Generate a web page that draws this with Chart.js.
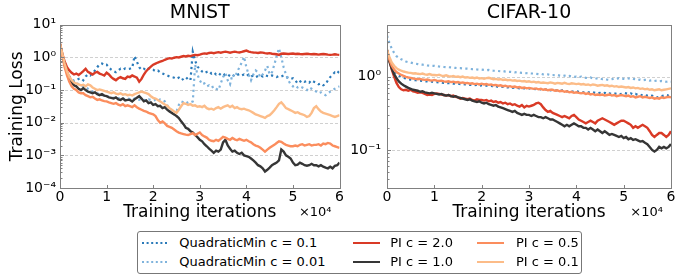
<!DOCTYPE html>
<html><head><meta charset="utf-8">
<script src="https://cdn.jsdelivr.net/npm/chart.js@4/dist/chart.umd.min.js"></script>
<style>
html,body{margin:0;padding:0;background:#fff;width:681px;height:277px;overflow:hidden;font-family:'DejaVu Sans',sans-serif;}
canvas{position:absolute;top:0;}
#c1{left:0;}
#c2{left:340px;}
#legendBox{position:absolute;left:137px;top:231px;width:445px;height:43px;border:1px solid #777;border-radius:3px;box-sizing:border-box;}
.lg{position:absolute;height:16px;font-size:13px;line-height:16px;white-space:nowrap;color:#000;}
.lg svg{position:absolute;left:0;top:5px;}
.lg span{position:absolute;top:0;}
</style></head><body>
<canvas id="c1" width="345" height="225"></canvas>
<canvas id="c2" width="341" height="225"></canvas>
<div id="legendBox"></div>
<div id="legendItems"></div>
<script>
const iters = [0,500,1000,1500,2000,2500,3000,3500,4000,4500,5000,5500,6000,6500,7000,7500,8000,8500,9000,9500,
10000,10500,11000,11500,12000,12500,13000,13500,14000,14500,15000,15500,16000,16500,17000,17500,18000,18500,19000,19500,
20000,20500,21000,21500,22000,22500,23000,23500,24000,24500,25000,25500,26000,26500,27000,27500,28000,28500,29000,29500,
30000,30500,31000,31500,32000,32500,33000,33500,34000,34500,35000,35500,36000,36500,37000,37500,38000,38500,39000,39500,
40000,40500,41000,41500,42000,42500,43000,43500,44000,44500,45000,45500,46000,46500,47000,47500,48000,48500,49000,49500,
50000,50500,51000,51500,52000,52500,53000,53500,54000,54500,55000,55500,56000,56500,57000,57500,58000,58500,59000,59500,60000];

const seriesLabels = ['QuadraticMin c = 0.1','QuadraticMin c = 0.01','PI c = 2.0','PI c = 1.0','PI c = 0.5','PI c = 0.1'];
const seriesColors = ['#2a7ab9','#7fb3dc','#d93a26','#363636','#fb8d5d','#fcbc88'];
const seriesDotted = [true,true,false,false,false,false];

// MNIST
const mnistQ1 = [2.5,1.2,0.6,0.35,0.26,0.21,0.19,0.2,0.22,0.23,
0.2,0.26,0.3,0.28,0.33,0.4,0.5,0.62,0.65,0.58,
0.6,0.5,0.42,0.38,0.35,0.4,0.45,0.42,0.46,0.44,
0.45,0.48,1.1,0.75,0.5,0.42,0.45,0.4,0.46,0.43,
0.42,0.38,0.4,0.35,0.32,0.3,0.28,0.26,0.25,0.24,
0.22,0.24,0.2,0.22,0.25,0.21,0.2,1.5,0.8,0.52,
0.45,0.37,0.33,0.36,0.38,0.32,0.35,0.3,0.33,0.29,
0.32,0.28,0.3,0.27,0.3,0.26,0.29,0.31,0.28,0.3,
0.27,0.3,0.26,0.28,0.25,0.27,0.28,0.26,0.29,0.27,
0.26,0.28,0.27,0.25,0.27,0.26,0.28,0.25,0.24,0.22,
0.23,0.2,0.16,0.18,0.2,0.18,0.19,0.17,0.2,0.18,
0.17,0.15,0.16,0.14,0.15,0.2,0.25,0.3,0.35,0.32,0.4];
const mnistQ01 = [2.5,1.25,0.62,0.36,0.25,0.2,0.18,0.17,0.15,0.14,
0.13,0.12,0.11,0.1,0.09,0.085,0.08,0.075,0.07,0.068,
0.065,0.062,0.06,0.058,0.055,0.057,0.054,0.056,0.052,0.055,
0.053,0.05,0.055,0.052,0.05,0.054,0.05,0.048,0.052,0.05,
0.048,0.05,0.046,0.052,0.05,0.045,0.035,0.025,0.02,0.018,
0.022,0.035,0.045,0.042,0.045,0.04,0.042,0.045,0.6,0.3,
0.2,0.15,0.16,0.13,0.14,0.12,0.13,0.11,0.1,0.16,
0.25,0.33,0.2,0.15,0.3,0.25,0.35,0.5,0.7,1.05,
0.5,0.3,0.2,0.3,0.4,0.35,0.25,0.3,0.4,0.55,
0.3,0.35,0.6,1.1,1.9,1.0,0.5,0.3,0.2,0.15,
0.13,0.14,0.12,0.13,0.12,0.11,0.1,0.12,0.11,0.1,
0.09,0.08,0.085,0.075,0.07,0.08,0.09,0.1,0.11,0.12,0.13];
const mnistPI2 = [2.6,1.3,0.75,0.5,0.4,0.34,0.3,0.32,0.29,0.33,
0.38,0.45,0.36,0.33,0.3,0.34,0.36,0.32,0.3,0.28,
0.34,0.3,0.25,0.22,0.2,0.23,0.25,0.23,0.22,0.26,
0.25,0.28,0.26,0.24,0.18,0.22,0.3,0.38,0.45,0.52,
0.6,0.65,0.7,0.74,0.78,0.85,0.9,0.95,0.92,0.98,
1.02,1.0,1.05,1.1,1.07,1.12,1.1,1.15,1.2,1.17,
1.22,1.28,1.33,1.3,1.37,1.4,1.35,1.4,1.45,1.4,
1.45,1.5,1.45,1.4,1.45,1.5,1.45,1.42,1.48,1.55,
1.62,1.5,1.45,1.42,1.4,1.37,1.42,1.4,1.35,1.32,
1.35,1.3,1.28,1.25,1.2,1.3,1.32,1.3,1.28,1.3,
1.32,1.28,1.3,1.27,1.25,1.28,1.3,1.27,1.25,1.28,
1.25,1.22,1.25,1.27,1.25,1.22,1.2,1.22,1.25,1.22,1.2];
const mnistPI1 = [2.6,1.2,0.6,0.36,0.24,0.17,0.14,0.13,0.11,0.1,
0.115,0.1,0.09,0.085,0.08,0.085,0.075,0.07,0.075,0.068,
0.065,0.06,0.058,0.055,0.06,0.052,0.05,0.055,0.048,0.05,
0.05,0.045,0.052,0.058,0.065,0.055,0.045,0.048,0.04,0.042,
0.035,0.037,0.032,0.033,0.028,0.03,0.025,0.022,0.02,0.018,
0.016,0.014,0.011,0.009,0.007,0.0065,0.0055,0.005,0.0042,0.0036,
0.003,0.0027,0.0022,0.0019,0.0016,0.0014,0.0012,0.0014,0.0013,0.0015,
0.0025,0.003,0.002,0.0016,0.0013,0.0014,0.0012,0.0011,0.0012,0.001,
0.00095,0.0009,0.0008,0.0007,0.0006,0.0005,0.00046,0.0004,0.00032,0.00036,
0.00042,0.0005,0.00055,0.0006,0.0007,0.0015,0.0013,0.001,0.0009,0.0008,
0.0006,0.0005,0.00052,0.0006,0.00055,0.0005,0.00048,0.0005,0.00055,0.0005,
0.0005,0.00046,0.0005,0.00045,0.00042,0.0004,0.00045,0.0004,0.00048,0.0005,0.0006];
const mnistPI05 = [2.6,1.1,0.5,0.28,0.18,0.13,0.11,0.1,0.085,0.08,
0.08,0.07,0.065,0.06,0.062,0.055,0.05,0.052,0.048,0.046,
0.045,0.042,0.04,0.038,0.04,0.036,0.034,0.037,0.032,0.034,
0.032,0.03,0.034,0.03,0.027,0.025,0.023,0.022,0.02,0.019,
0.018,0.016,0.012,0.01,0.011,0.0095,0.008,0.0075,0.007,0.0062,
0.0055,0.005,0.0047,0.0045,0.0043,0.0042,0.0045,0.0048,0.0042,0.0046,
0.005,0.0042,0.0038,0.0035,0.003,0.0028,0.0027,0.003,0.0028,0.0032,
0.0037,0.0035,0.0032,0.003,0.0034,0.0031,0.0029,0.0032,0.003,0.0028,
0.003,0.0027,0.0025,0.0022,0.002,0.0019,0.0017,0.0015,0.0013,0.0015,
0.0017,0.0019,0.0021,0.0024,0.0027,0.0026,0.0023,0.0021,0.002,0.0019,
0.0019,0.002,0.0019,0.0021,0.0022,0.002,0.0021,0.0022,0.002,0.0021,
0.0021,0.0022,0.002,0.0023,0.0022,0.0024,0.0023,0.002,0.0019,0.0018,0.0017];
const mnistPI01 = [2.6,1.3,0.65,0.38,0.26,0.2,0.17,0.16,0.15,0.14,
0.145,0.13,0.15,0.14,0.12,0.11,0.1,0.105,0.1,0.095,
0.09,0.085,0.08,0.085,0.078,0.075,0.08,0.072,0.075,0.07,
0.072,0.068,0.075,0.08,0.085,0.09,0.085,0.08,0.075,0.065,
0.058,0.055,0.05,0.045,0.04,0.036,0.033,0.028,0.025,0.022,
0.02,0.025,0.032,0.04,0.038,0.035,0.037,0.033,0.034,0.031,
0.032,0.03,0.033,0.028,0.026,0.027,0.025,0.028,0.03,0.027,
0.03,0.032,0.034,0.03,0.033,0.028,0.03,0.027,0.026,0.027,
0.025,0.024,0.022,0.02,0.018,0.017,0.016,0.015,0.014,0.016,
0.017,0.02,0.024,0.03,0.038,0.042,0.035,0.028,0.026,0.024,
0.022,0.02,0.021,0.019,0.018,0.017,0.015,0.016,0.02,0.028,
0.032,0.026,0.022,0.02,0.019,0.018,0.017,0.016,0.015,0.016,0.017];

// CIFAR-10
const cifarQ1 = [2.2,1.65,1.35,1.2,1.1,1.03,0.99,0.96,0.94,0.92,
0.91,0.9,0.89,0.88,0.88,0.87,0.86,0.86,0.85,0.85,
0.84,0.84,0.83,0.83,0.82,0.82,0.81,0.81,0.8,0.8,
0.8,0.79,0.79,0.78,0.78,0.77,0.77,0.76,0.77,0.75,
0.76,0.75,0.75,0.74,0.75,0.73,0.74,0.72,0.73,0.72,
0.72,0.71,0.72,0.7,0.71,0.7,0.69,0.7,0.69,0.68,
0.69,0.68,0.68,0.67,0.68,0.67,0.66,0.67,0.66,0.65,
0.66,0.65,0.65,0.64,0.65,0.64,0.63,0.64,0.63,0.62,
0.63,0.62,0.62,0.61,0.62,0.61,0.6,0.61,0.6,0.59,
0.6,0.59,0.6,0.58,0.59,0.58,0.59,0.58,0.57,0.58,
0.6,0.59,0.58,0.59,0.57,0.58,0.56,0.57,0.55,0.56,
0.55,0.54,0.55,0.53,0.52,0.53,0.54,0.55,0.56,0.55,0.56];
const cifarQ01 = [3.6,2.9,2.4,2.1,1.9,1.8,1.72,1.66,1.6,1.57,
1.55,1.52,1.5,1.48,1.46,1.45,1.44,1.42,1.41,1.4,
1.4,1.38,1.37,1.36,1.35,1.34,1.34,1.33,1.32,1.31,
1.3,1.3,1.29,1.28,1.28,1.27,1.26,1.27,1.25,1.24,
1.24,1.23,1.22,1.23,1.21,1.2,1.2,1.19,1.18,1.19,
1.17,1.16,1.16,1.15,1.14,1.15,1.13,1.12,1.12,1.11,
1.11,1.1,1.1,1.09,1.08,1.09,1.07,1.06,1.07,1.05,
1.05,1.04,1.05,1.03,1.02,1.03,1.01,1.02,1.0,0.99,
1.0,0.98,1.0,0.97,0.96,0.95,0.97,0.94,0.93,0.95,
0.94,0.92,0.93,0.91,0.9,0.92,0.94,0.93,0.95,0.94,
0.93,0.92,0.94,0.95,0.93,0.92,0.9,0.91,0.89,0.9,
0.9,0.88,0.89,0.87,0.88,0.86,0.87,0.86,0.85,0.86,0.85];
const cifarPI2 = [2.3,1.65,1.25,1.0,0.82,0.72,0.67,0.65,0.66,0.64,
0.66,0.63,0.62,0.6,0.61,0.6,0.58,0.56,0.57,0.56,
0.58,0.59,0.58,0.57,0.56,0.55,0.56,0.54,0.55,0.53,
0.52,0.5,0.51,0.5,0.49,0.5,0.48,0.47,0.49,0.48,
0.48,0.47,0.48,0.46,0.47,0.45,0.46,0.44,0.45,0.43,
0.44,0.42,0.43,0.41,0.42,0.4,0.39,0.41,0.38,0.4,
0.39,0.4,0.41,0.43,0.44,0.42,0.38,0.35,0.33,0.34,
0.32,0.31,0.3,0.29,0.28,0.29,0.28,0.27,0.29,0.3,
0.28,0.26,0.25,0.24,0.23,0.24,0.25,0.24,0.23,0.25,
0.26,0.27,0.26,0.25,0.24,0.23,0.22,0.23,0.24,0.25,
0.25,0.24,0.23,0.22,0.2,0.21,0.2,0.21,0.22,0.21,
0.2,0.18,0.16,0.15,0.16,0.17,0.17,0.16,0.15,0.16,0.18];
const cifarPI1 = [2.3,1.6,1.28,1.08,0.95,0.86,0.8,0.76,0.73,0.7,
0.68,0.66,0.65,0.64,0.62,0.63,0.61,0.6,0.59,0.6,
0.59,0.58,0.57,0.58,0.56,0.55,0.56,0.54,0.53,0.54,
0.52,0.51,0.5,0.49,0.48,0.49,0.47,0.46,0.45,0.46,
0.44,0.43,0.44,0.42,0.41,0.4,0.41,0.39,0.38,0.37,
0.36,0.35,0.34,0.33,0.34,0.32,0.31,0.3,0.31,0.3,
0.3,0.29,0.3,0.29,0.28,0.28,0.27,0.28,0.27,0.26,
0.26,0.25,0.24,0.23,0.22,0.21,0.22,0.21,0.22,0.23,
0.22,0.21,0.21,0.2,0.2,0.19,0.2,0.19,0.18,0.19,
0.18,0.17,0.18,0.17,0.16,0.165,0.16,0.155,0.15,0.155,
0.145,0.15,0.14,0.145,0.137,0.14,0.135,0.13,0.132,0.125,
0.12,0.11,0.1,0.095,0.1,0.11,0.105,0.11,0.105,0.11,0.12];
const cifarPI05 = [2.2,1.7,1.4,1.25,1.15,1.1,1.05,1.02,0.99,0.97,
0.96,0.94,0.93,0.92,0.93,0.91,0.9,0.91,0.89,0.88,
0.9,0.88,0.87,0.88,0.86,0.85,0.86,0.84,0.85,0.83,
0.84,0.82,0.83,0.81,0.82,0.8,0.81,0.79,0.8,0.78,
0.8,0.78,0.79,0.77,0.78,0.76,0.77,0.75,0.76,0.74,
0.75,0.73,0.74,0.72,0.73,0.71,0.72,0.7,0.71,0.69,
0.7,0.69,0.68,0.69,0.67,0.68,0.66,0.67,0.65,0.66,
0.66,0.64,0.65,0.63,0.64,0.62,0.63,0.61,0.62,0.6,
0.61,0.6,0.59,0.6,0.58,0.59,0.57,0.58,0.56,0.57,
0.56,0.57,0.55,0.56,0.57,0.55,0.56,0.54,0.55,0.56,
0.55,0.54,0.55,0.53,0.54,0.52,0.53,0.54,0.52,0.53,
0.52,0.51,0.52,0.5,0.51,0.5,0.52,0.51,0.52,0.53,0.52];
const cifarPI01 = [2.3,1.85,1.55,1.4,1.3,1.24,1.2,1.17,1.15,1.13,
1.12,1.1,1.11,1.09,1.08,1.1,1.07,1.06,1.08,1.05,
1.05,1.04,1.06,1.03,1.02,1.04,1.01,1.0,1.02,0.99,
1.0,0.98,1.0,0.97,0.98,0.96,0.97,0.95,0.97,0.94,
0.95,0.93,0.95,0.96,0.94,0.92,0.93,0.91,0.92,0.9,
0.91,0.89,0.9,0.88,0.89,0.87,0.88,0.86,0.87,0.85,
0.86,0.84,0.85,0.83,0.84,0.82,0.83,0.82,0.81,0.83,
0.82,0.8,0.82,0.81,0.8,0.82,0.8,0.79,0.81,0.8,
0.79,0.8,0.78,0.79,0.77,0.78,0.76,0.78,0.77,0.75,
0.76,0.77,0.75,0.76,0.74,0.75,0.73,0.74,0.72,0.73,
0.72,0.71,0.72,0.7,0.71,0.69,0.7,0.68,0.69,0.67,
0.68,0.66,0.67,0.65,0.66,0.67,0.65,0.66,0.67,0.68,0.69];

const mnistYTicks = [0.0001,0.001,0.01,0.1,1,10];
const mnistYLabels = ['10\u207B\u2074','10\u207B\u00B3','10\u207B\u00B2','10\u207B\u00B9','10\u2070','10\u00B9'];
const cifarYTicks = [0.1,1];
const cifarYLabels = ['10\u207B\u00B9','10\u2070'];
const xTicks = [0,10000,20000,30000,40000,50000,60000];
const xTickLabels = ['0','1','2','3','4','5','6'];
const xOffsetLabel = '\u00D710\u2074';
const FONT = 'DejaVu Sans';

Chart.defaults.font.family = FONT;
Chart.defaults.color = '#000';

function minorTicks(min, max){
  const out = [];
  for (let e = -5; e <= 1; e++) for (let k = 2; k <= 9; k++) {
    const v = k * Math.pow(10, e);
    if (v > min && v < max) out.push(v);
  }
  return out;
}

const framePlugin = {
  id: 'frame',
  beforeDatasetsDraw(chart, args, o){
    const {ctx, chartArea:a, scales:{x, y}} = chart;
    ctx.save();
    ctx.strokeStyle = '#d0d0d0'; ctx.lineWidth = 1; ctx.setLineDash([3,2]);
    for (const v of o.grid) {
      const py = Math.round(y.getPixelForValue(v)) + 0.5;
      ctx.beginPath(); ctx.moveTo(a.left, py); ctx.lineTo(a.right, py); ctx.stroke();
    }
    ctx.restore();
  },
  afterDatasetsDraw(chart, args, o){
    const {ctx, chartArea:a, scales:{x, y}} = chart;
    ctx.save();
    ctx.strokeStyle = '#808080'; ctx.lineWidth = 1; ctx.setLineDash([]);
    const L = Math.round(a.left) + 0.5, B = Math.round(a.bottom) + 0.5;
    ctx.beginPath();
    for (const v of o.majors) { const py = Math.round(y.getPixelForValue(v)) + 0.5; ctx.moveTo(L, py); ctx.lineTo(L + 3.5, py); }
    for (const v of o.minors) { const py = Math.round(y.getPixelForValue(v)) + 0.5; ctx.moveTo(L, py); ctx.lineTo(L + 2, py); }
    for (const v of xTicks) { const px = Math.round(x.getPixelForValue(v)) + 0.5; ctx.moveTo(px, B); ctx.lineTo(px, B - 3.5); }
    ctx.stroke();
    ctx.strokeRect(L, Math.round(a.top) + 0.5, Math.round(a.right) - Math.round(a.left), Math.round(a.bottom) - Math.round(a.top));
    ctx.fillStyle = '#000';
    ctx.font = '13px "' + FONT + '"';
    ctx.textAlign = 'right'; ctx.textBaseline = 'middle';
    ctx.fillText(xOffsetLabel, a.right - 8, 213);
    ctx.restore();
  }
};

function makeChart(id, title, series, yMin, yMax, yTicks, yLabels, yTitle, yWidth, padRight, labelPad){
  const datasets = series.map((vals, i) => ({
    label: seriesLabels[i],
    data: vals.map((v, j) => ({x: iters[j], y: v})),
    borderColor: seriesColors[i],
    borderWidth: seriesDotted[i] ? 2.2 : 2.4,
    borderDash: seriesDotted[i] ? [2.2, 3.3] : [],
    pointRadius: 0,
    tension: 0,
    fill: false,
    order: 5 - i
  }));
  return new Chart(document.getElementById(id), {
    type: 'line',
    data: { datasets },
    plugins: [framePlugin],
    options: {
      responsive: false, animation: false, devicePixelRatio: 1,
      layout: { padding: { left: 0, right: padRight, top: 0, bottom: 0 } },
      plugins: {
        legend: { display: false }, tooltip: { enabled: false },
        title: { display: true, text: title, fullSize: false, color: '#000',
                 font: { family: FONT, size: 19, weight: 'normal' }, padding: { top: 2, bottom: 0 } },
        frame: { grid: yTicks.filter(v => v > yMin && v < yMax), majors: yTicks, minors: minorTicks(yMin, yMax) }
      },
      scales: {
        x: {
          type: 'linear', min: 0, max: 60000,
          grid: { display: false, drawTicks: false }, border: { display: false },
          afterBuildTicks: s => { s.ticks = xTicks.map(v => ({ value: v })); },
          afterFit: s => { s.height = 37; },
          ticks: { padding: 1, autoSkip: false, maxRotation: 0, font: { size: 14 }, color: '#000',
                   callback: (v, i) => xTickLabels[i] },
          title: { display: true, text: 'Training iterations', color: '#000',
                   font: { family: FONT, size: 17 }, padding: { top: 0, bottom: 2 } }
        },
        y: {
          type: 'logarithmic', min: yMin, max: yMax,
          grid: { display: false, drawTicks: false }, border: { display: false },
          afterBuildTicks: s => { s.ticks = yTicks.map(v => ({ value: v })); },
          afterFit: s => { s.width = yWidth; },
          ticks: { padding: labelPad, autoSkip: false, font: { size: 14 }, color: '#000',
                   callback: (v, i) => yLabels[i] },
          title: { display: !!yTitle, text: yTitle || '', color: '#000',
                   font: { family: FONT, size: 17 }, padding: { top: 7, bottom: 0 } }
        }
      }
    }
  });
}

makeChart('c1', 'MNIST', [mnistQ1, mnistQ01, mnistPI2, mnistPI1, mnistPI05, mnistPI01],
  0.0001, 10, mnistYTicks, mnistYLabels, 'Training Loss', 60, 5, 4);
makeChart('c2', 'CIFAR-10', [cifarQ1, cifarQ01, cifarPI2, cifarPI1, cifarPI05, cifarPI01],
  0.0303, 5.07, cifarYTicks, cifarYLabels, null, 47, 10, 6);

// legend (3 columns x 2 rows)
const legendCols = [141.7, 352.7, 477];
const legendRows = [242.7, 261.7];
const holder = document.getElementById('legendItems');
seriesLabels.forEach((lab, i) => {
  const col = Math.floor(i / 2), row = i % 2;
  const d = document.createElement('div');
  d.className = 'lg';
  d.style.left = legendCols[col] + 'px';
  d.style.top = (legendRows[row] - 8) + 'px';
  const dash = seriesDotted[i] ? ' stroke-dasharray="2,2.6"' : '';
  d.innerHTML = '<svg width="28" height="6"><line x1="0" y1="3" x2="27" y2="3" stroke="' + seriesColors[i] +
    '" stroke-width="2"' + dash + '/></svg><span style="left:' + (col === 2 ? 39 : 37.5) + 'px">' + lab + '</span>';
  holder.appendChild(d);
});
</script>
</body></html>
